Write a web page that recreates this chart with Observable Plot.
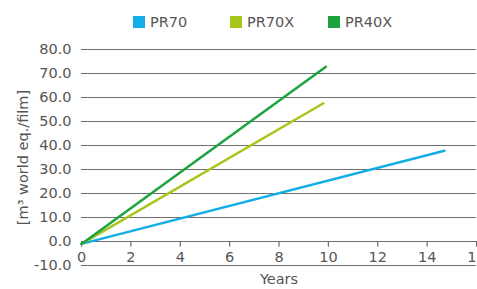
<!DOCTYPE html>
<html><head><meta charset="utf-8">
<script src="https://cdn.jsdelivr.net/npm/d3@7"></script>
<script src="https://cdn.jsdelivr.net/npm/@observablehq/plot@0.6"></script>
<style>
body{margin:0;background:#fff;font-family:"DejaVu Sans",sans-serif;}
#legend{position:relative;height:36px;width:477px;}
.item{position:absolute;top:14px;display:flex;align-items:center;font-size:14.5px;color:#555;}
.sw{width:12px;height:12px;margin-right:5px;}
</style></head><body>
<div id="legend"></div>
<div id="chart"></div>
<script>
const series = ["PR70", "PR70X", "PR40X"];
const colors = ["#14aee6", "#a6c61c", "#1ca23e"];
const years = {PR70: [0, 14.7], PR70X: [0, 9.8], PR40X: [0, 9.9]};
const values = {PR70: [-1, 37.8], PR70X: [-1, 57.6], PR40X: [-1, 72.8]};
const yTicks = [-10, 0, 10, 20, 30, 40, 50, 60, 70, 80];
const xTicks = [0, 2, 4, 6, 8, 10, 12, 14, 16];
const legendX = [133, 230, 328];

const data = series.flatMap(s => years[s].map((x, i) => ({series: s, x, y: values[s][i]})));

const leg = document.getElementById("legend");
series.forEach((s, i) => {
  const d = document.createElement("div");
  d.className = "item";
  d.style.left = legendX[i] + "px";
  d.innerHTML = `<div class="sw" style="background:${colors[i]}"></div><span>${s}</span>`;
  leg.appendChild(d);
});

const chart = Plot.plot({
  width: 477,
  height: 253,
  marginLeft: 81,
  marginRight: 1,
  marginTop: 13,
  marginBottom: 24,
  style: {fontFamily: "DejaVu Sans, sans-serif", fontSize: "14.5px", color: "#555"},
  x: {domain: [0, 16], axis: null},
  y: {domain: [-10, 80]},
  color: {domain: series, range: colors},
  marks: [
    Plot.ruleY(yTicks, {stroke: "#6e6e6e", strokeWidth: 1.2}),
    Plot.axisY(yTicks, {tickSize: 0, tickPadding: 10, tickFormat: d => d.toFixed(1), fill: "#555",
      label: "[m³ world eq./film]", labelAnchor: "center", labelOffset: 64, labelArrow: "none"}),
    Plot.ruleX(xTicks, {x: d => d, y1: 0, y2: -2.4, stroke: "#6e6e6e", strokeWidth: 1.2}),
    Plot.text(xTicks, {x: d => d, y: 0, dy: 16, fill: "#555", fontSize: 14.5}),
    Plot.text(["Years"], {frameAnchor: "bottom", dy: 18, fill: "#555", fontSize: 14.5}),
    Plot.line(data, {x: "x", y: "y", z: "series", stroke: "series", strokeWidth: 2.5})
  ]
});
document.getElementById("chart").appendChild(chart);
</script>
</body></html>
